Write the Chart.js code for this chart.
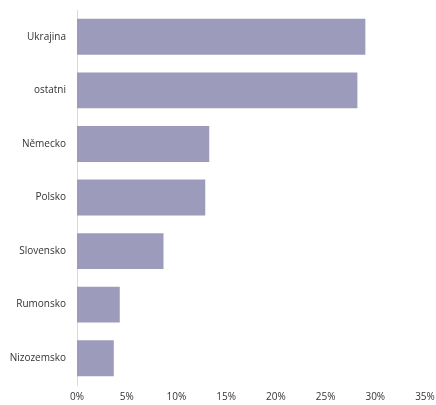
<!DOCTYPE html>
<html>
<head>
<meta charset="utf-8">
<script src="https://cdn.jsdelivr.net/npm/chart.js@4/dist/chart.umd.min.js"></script>
<style>
  html, body { margin: 0; padding: 0; background: #fff; }
  canvas { display: block; }
</style>
</head>
<body>
<canvas id="chart" width="436" height="405"></canvas>
<script>
const categories = ['Ukrajina', 'ostatni', 'Německo', 'Polsko', 'Slovensko', 'Rumonsko', 'Nizozemsko'];
const shares = [29.0, 28.2, 13.3, 12.9, 8.7, 4.3, 3.7];
const tickMax = 35;
const tickStep = 5;

const ctx = document.getElementById('chart').getContext('2d');
new Chart(ctx, {
  type: 'bar',
  data: {
    labels: categories,
    datasets: [{
      data: shares,
      backgroundColor: '#9c9bbb',
      borderWidth: 0,
      categoryPercentage: 1,
      barPercentage: 0.67
    }]
  },
  options: {
    indexAxis: 'y',
    responsive: false,
    animation: false,
    layout: { padding: { top: 10, right: 11, bottom: 0, left: 0 } },
    plugins: { legend: { display: false }, tooltip: { enabled: false } },
    scales: {
      x: {
        min: 0,
        max: tickMax,
        grid: { display: false, drawTicks: false, tickLength: 0 },
        border: { display: false },
        ticks: {
          stepSize: tickStep,
          padding: 6,
          color: '#333333',
          font: { family: 'Open Sans', size: 10 },
          callback: v => v + '%'
        },
        afterFit: s => { s.height = 20; s.paddingLeft = 0; s.paddingRight = 0; }
      },
      y: {
        grid: { display: false, drawTicks: false, tickLength: 0 },
        border: { display: true, color: '#d9d9d9', width: 1 },
        ticks: {
          padding: 11,
          color: '#333333',
          font: { family: 'Open Sans', size: 10 }
        },
        afterFit: s => { s.width = 77; s.paddingTop = 0; s.paddingBottom = 0; }
      }
    }
  }
});
</script>
</body>
</html>
